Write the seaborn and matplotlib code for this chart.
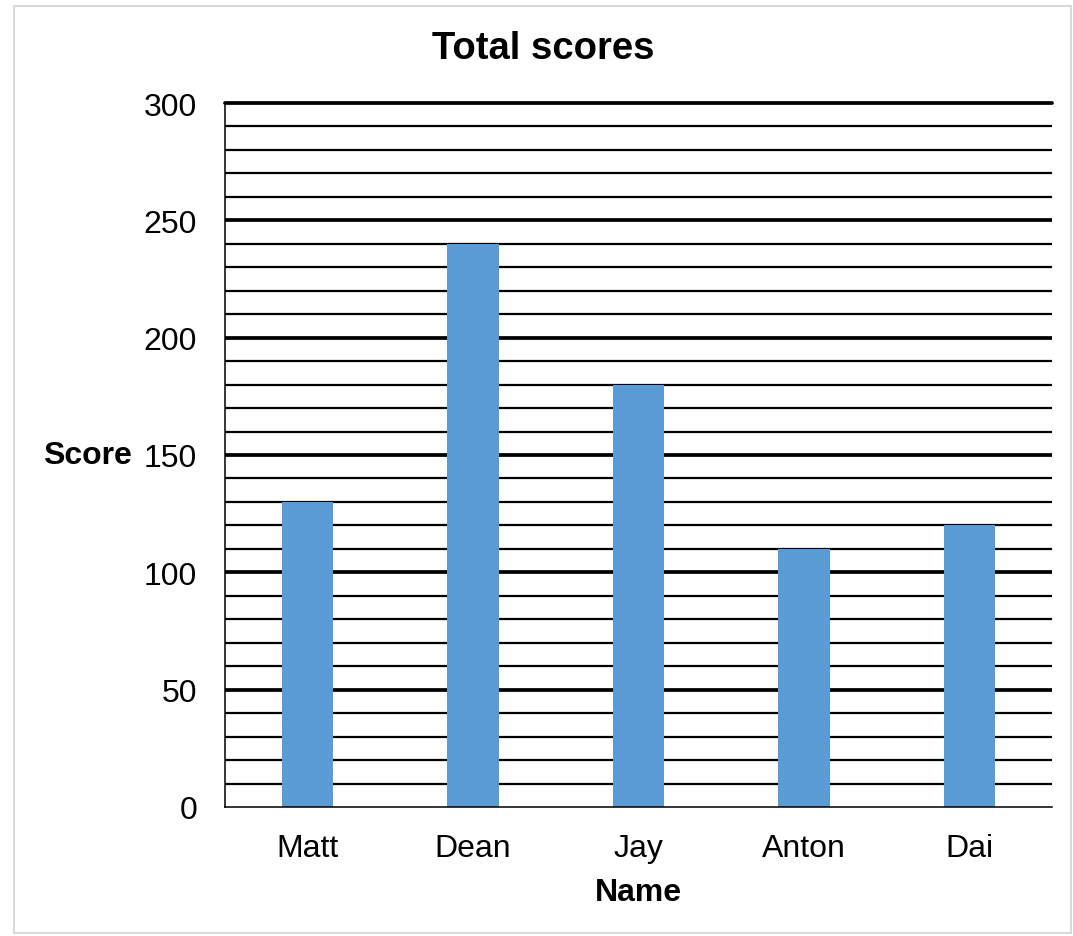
import matplotlib
matplotlib.use("Agg")
import matplotlib.pyplot as plt
from matplotlib.patches import Rectangle
from matplotlib.ticker import MultipleLocator
import pandas as pd
import seaborn as sns

# data
names = ["Matt", "Dean", "Jay", "Anton", "Dai"]
scores = [130, 240, 180, 110, 120]
y_max = 300

df = pd.DataFrame({"Name": names, "Score": scores})

sns.set_theme(style="white")
plt.rcParams["font.family"] = ["Liberation Sans", "DejaVu Sans"]
plt.rcParams["text.color"] = "black"
plt.rcParams["axes.labelcolor"] = "black"

fig = plt.figure(figsize=(10.73, 9.37), dpi=100)
ax = fig.add_axes([0.2097, 0.1377, 0.7707, 0.7513])

sns.barplot(data=df, x="Name", y="Score", color="#5B9BD5", width=0.31,
            saturation=1, linewidth=0, edgecolor="none", ax=ax, zorder=3)

ax.set_ylim(0, y_max)
ax.yaxis.set_major_locator(MultipleLocator(50))
ax.yaxis.set_minor_locator(MultipleLocator(10))
ax.set_axisbelow(True)
ax.grid(which="major", axis="y", color="black", linewidth=2.7)
ax.grid(which="minor", axis="y", color="black", linewidth=1.6)
ax.grid(which="major", axis="x", visible=False)

for side in ["top", "right"]:
    ax.spines[side].set_visible(False)
for side in ["left", "bottom"]:
    ax.spines[side].set_color("black")
    ax.spines[side].set_linewidth(1.1)
    ax.spines[side].set_zorder(4)

ax.tick_params(which="both", length=0, labelsize=23, colors="black")
ax.tick_params(axis="y", pad=20)
ax.tick_params(axis="x", pad=19)

fig.text(0.506, 0.948, "Total scores", fontsize=27.5, fontweight="bold",
         ha="center", va="center", color="black")
ax.set_xlabel("Name", fontsize=23, fontweight="bold")
ax.xaxis.set_label_coords(0.5, -0.1)
ax.set_ylabel("Score", fontsize=23, fontweight="bold", rotation=0,
              ha="right", va="center")
ax.yaxis.set_label_coords(-0.113, 0.5)

# light frame round the whole chart
fig.patches.append(Rectangle((0.013, 0.003), 0.985, 0.99, transform=fig.transFigure,
                             fill=False, edgecolor="#d9d9d9", linewidth=1.5))

# top (300) grid line drawn full width, the 0 line stays a thin axis
fig.canvas.draw()
for line in ax.get_ygridlines():
    if line.get_ydata()[0] == y_max:
        line.set_clip_on(False)
    elif line.get_ydata()[0] == 0:
        line.set_visible(False)

fig.savefig("out.png", dpi=100, facecolor="white")
